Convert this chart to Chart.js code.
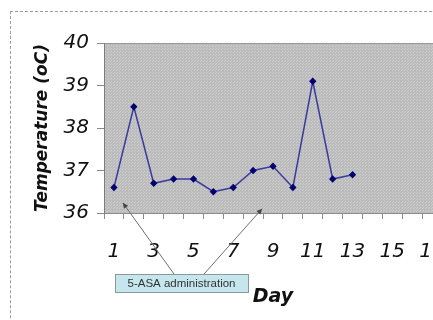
<!DOCTYPE html>
<html>
<head>
<meta charset="utf-8">
<script src="https://cdn.jsdelivr.net/npm/chart.js@4"></script>
<style>
  html, body { margin: 0; padding: 0; background: #fff; overflow: hidden; }
  #wrap { position: relative; width: 433px; height: 320px; overflow: hidden; }
  #frame { position: absolute; left: 10px; top: 11px; width: 500px; height: 400px; border: 1px dashed #9a9a9a; }
  #chartBox { position: absolute; left: 0; top: 0; width: 460px; height: 320px; }
</style>
</head>
<body>
<div id="wrap">
  <div id="frame"></div>
  <div id="chartBox"><canvas id="tempChart" width="460" height="320"></canvas></div>
</div>
<script>
// days on the x axis (chart goes past the visible edge)
var days = ["1","2","3","4","5","6","7","8","9","10","11","12","13","14","15","16","17"];
// temperature readings, oC
var temperature = [36.6, 38.5, 36.7, 36.8, 36.8, 36.5, 36.6, 37.0, 37.1, 36.6, 39.1, 36.8, 36.9];
var yTicks = [36, 37, 38, 39, 40];
var noteText = "5-ASA administration";
// where the two arrows of the note point (day index, temperature)
var noteTargets = [[0.45, 36.24], [7.45, 36.1]];

var axisFont = { family: "DejaVu Sans", style: "italic", size: 20 };
var titleFont = { family: "DejaVu Sans", style: "italic", weight: "bold", size: 17 };

function makePattern(ctx) {
    var p = document.createElement("canvas");
    p.width = 3; p.height = 3;
    var c = p.getContext("2d");
    c.fillStyle = "#bcbcbc";
    c.fillRect(0, 0, 3, 3);
    c.fillStyle = "#cdcdcd";
    c.fillRect(0, 0, 1, 1);
    c.fillRect(2, 1, 1, 1);
    return ctx.createPattern(p, "repeat");
}

var plotBg = {
    id: "plotBg",
    beforeDraw: function (chart) {
        var a = chart.chartArea, ctx = chart.ctx;
        ctx.save();
        ctx.fillStyle = makePattern(ctx);
        ctx.fillRect(a.left, a.top, a.right - a.left, a.bottom - a.top);
        ctx.strokeStyle = "#9a9a9a";
        ctx.lineWidth = 1;
        ctx.beginPath();
        ctx.moveTo(a.left, a.top + 0.5);
        ctx.lineTo(a.right, a.top + 0.5);
        ctx.stroke();
        ctx.restore();
    }
};

function arrow(ctx, x1, y1, x2, y2) {
    ctx.beginPath();
    ctx.moveTo(x1, y1);
    ctx.lineTo(x2, y2);
    ctx.stroke();
    var ang = Math.atan2(y2 - y1, x2 - x1);
    ctx.beginPath();
    ctx.moveTo(x2, y2);
    ctx.lineTo(x2 - 6 * Math.cos(ang - 0.45), y2 - 6 * Math.sin(ang - 0.45));
    ctx.lineTo(x2 - 6 * Math.cos(ang + 0.45), y2 - 6 * Math.sin(ang + 0.45));
    ctx.closePath();
    ctx.fill();
}

var note = {
    id: "note",
    afterDraw: function (chart) {
        var ctx = chart.ctx;
        var xs = chart.scales.x, ys = chart.scales.y;
        var bx = 115, by = 274, bw = 133, bh = 18;
        ctx.save();
        ctx.strokeStyle = "#6e6e6e";
        ctx.fillStyle = "#444";
        ctx.lineWidth = 1;
        var starts = [[bx + 59, by], [bx + 89, by]];
        for (var i = 0; i < noteTargets.length; i++) {
            var tx = xs.getPixelForValue(noteTargets[i][0]);
            var ty = ys.getPixelForValue(noteTargets[i][1]);
            arrow(ctx, starts[i][0], starts[i][1], tx, ty);
        }
        ctx.fillStyle = "#c4e6ec";
        ctx.fillRect(bx, by, bw, bh);
        ctx.strokeStyle = "#8a9a9c";
        ctx.strokeRect(bx + 0.5, by + 0.5, bw, bh);
        ctx.fillStyle = "#333";
        ctx.font = "11.5px 'Liberation Sans'";
        ctx.textAlign = "center";
        ctx.textBaseline = "middle";
        ctx.fillText(noteText, bx + bw / 2, by + bh / 2 + 1);
        ctx.restore();
    }
};

var ctx = document.getElementById("tempChart");
var myChart = new Chart(ctx, {
    type: "line",
    data: {
        labels: days,
        datasets: [{
            label: "Temperature",
            data: temperature,
            borderColor: "#3a3aa0",
            borderWidth: 1.5,
            pointStyle: "rectRot",
            pointRadius: 2.6,
            pointBackgroundColor: "#000070",
            pointBorderColor: "#000070",
            tension: 0
        }]
    },
    plugins: [plotBg, note],
    options: {
        responsive: false,
        animation: false,
        events: [],
        layout: { padding: { top: 43, left: 0, right: 18, bottom: 0 } },
        plugins: { legend: { display: false }, tooltip: { enabled: false } },
        scales: {
            x: {
                offset: true,
                afterFit: function (s) { s.height = 107; s.paddingRight = 0; s.paddingLeft = 0; },
                border: { display: true, color: "#8c8c8c", width: 1 },
                grid: { offset: true, drawOnChartArea: false, drawTicks: true, tickLength: 6, color: "#8c8c8c" },
                ticks: {
                    autoSkip: false, maxRotation: 0, padding: 21, color: "#111", font: axisFont,
                    callback: function (v, i) { return i % 2 === 0 ? days[i] : ""; }
                },
                title: { display: true, text: "Day", color: "#111", font: { family: "DejaVu Sans", style: "italic", weight: "bold", size: 19 }, padding: { top: 0, bottom: 12 } }
            },
            y: {
                min: 36, max: 40,
                afterFit: function (s) { s.width = 104; s.paddingTop = 0; s.paddingBottom = 0; },
                afterBuildTicks: function (s) { s.ticks = yTicks.map(function (v) { return { value: v }; }); },
                border: { display: true, color: "#7c7c7c", width: 1 },
                grid: { drawOnChartArea: false, drawTicks: true, tickLength: 7, color: "#8c8c8c" },
                ticks: { padding: 8, color: "#111", font: axisFont },
                title: { display: true, text: "Temperature (oC)", color: "#111", font: titleFont, padding: { top: 32, bottom: 0 } }
            }
        }
    }
});
</script>
</body>
</html>
